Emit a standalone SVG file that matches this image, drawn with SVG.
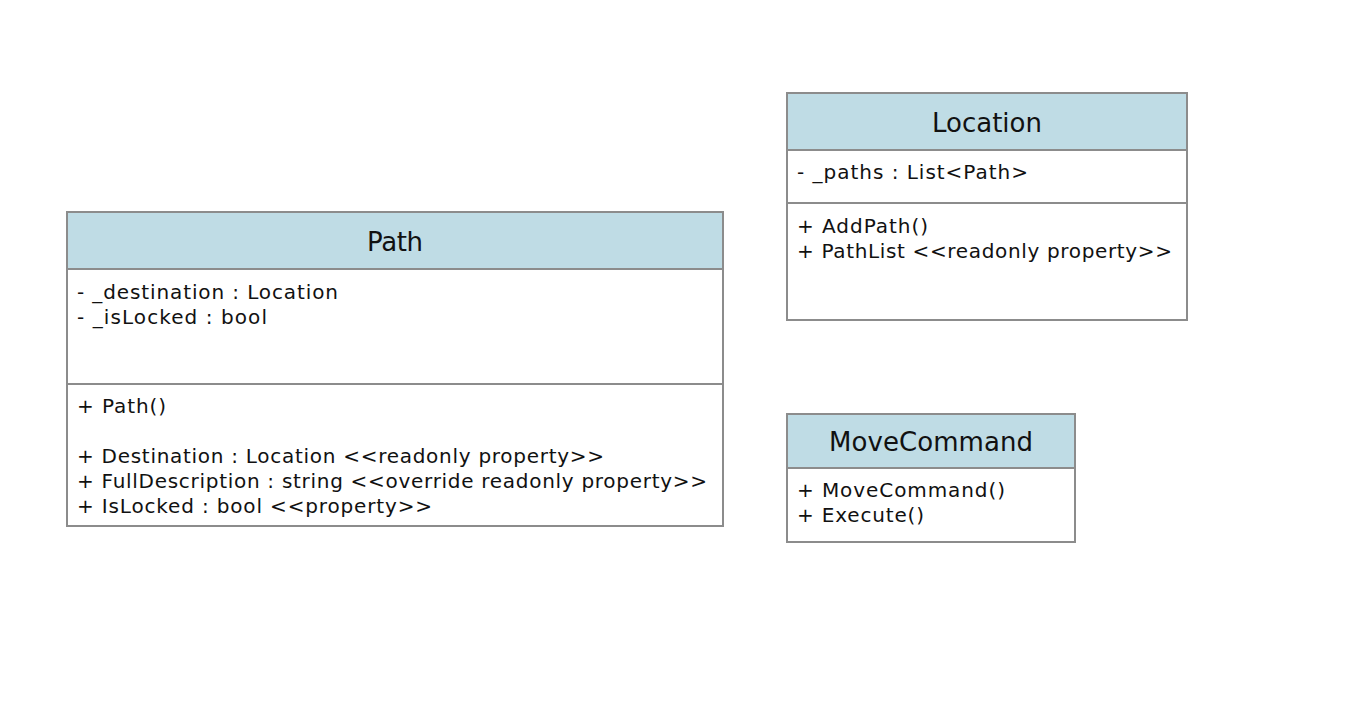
<svg xmlns="http://www.w3.org/2000/svg" width="1358" height="706" viewBox="0 0 1358 706">
<style>
.box{fill:#ffffff;stroke:#8c8c8c;stroke-width:2}
.hdr{fill:#bfdce5;stroke:#8c8c8c;stroke-width:2}
.sep{stroke:#8c8c8c;stroke-width:2}
.t{font-family:"DejaVu Sans",Verdana,sans-serif;font-size:20px;fill:#111}
.h{font-family:"DejaVu Sans",Verdana,sans-serif;font-size:26px;fill:#111;text-anchor:middle;dominant-baseline:central}
</style>
<rect width="1358" height="706" fill="#ffffff"/>
<g id="Path">
<rect class="box" x="67" y="212" width="656" height="314"/>
<rect class="hdr" x="67" y="212" width="656" height="57"/>
<text class="h" x="395" y="242" textLength="56" lengthAdjust="spacing">Path</text>
<line class="sep" x1="67" y1="384" x2="723" y2="384"/>
<text class="t" x="77" y="299" textLength="261" lengthAdjust="spacing">- _destination : Location</text>
<text class="t" x="77" y="324" textLength="190" lengthAdjust="spacing">- _isLocked : bool</text>
<text class="t" x="77" y="413" textLength="89" lengthAdjust="spacing">+ Path()</text>
<text class="t" x="77" y="463" textLength="527" lengthAdjust="spacing">+ Destination : Location &lt;&lt;readonly property&gt;&gt;</text>
<text class="t" x="77" y="488" textLength="630" lengthAdjust="spacing">+ FullDescription : string &lt;&lt;override readonly property&gt;&gt;</text>
<text class="t" x="77" y="513" textLength="355" lengthAdjust="spacing">+ IsLocked : bool &lt;&lt;property&gt;&gt;</text>
</g>
<g id="Location">
<rect class="box" x="787" y="93" width="400" height="227"/>
<rect class="hdr" x="787" y="93" width="400" height="57"/>
<text class="h" x="987" y="123" textLength="110" lengthAdjust="spacing">Location</text>
<line class="sep" x1="787" y1="203" x2="1187" y2="203"/>
<text class="t" x="797" y="179" textLength="231" lengthAdjust="spacing">- _paths : List&lt;Path&gt;</text>
<text class="t" x="797" y="233" textLength="131" lengthAdjust="spacing">+ AddPath()</text>
<text class="t" x="797" y="258" textLength="375" lengthAdjust="spacing">+ PathList &lt;&lt;readonly property&gt;&gt;</text>
</g>
<g id="MoveCommand">
<rect class="box" x="787" y="414" width="288" height="128"/>
<rect class="hdr" x="787" y="414" width="288" height="54"/>
<text class="h" x="931" y="442" textLength="204" lengthAdjust="spacing">MoveCommand</text>
<text class="t" x="797" y="497" textLength="208" lengthAdjust="spacing">+ MoveCommand()</text>
<text class="t" x="797" y="522" textLength="127" lengthAdjust="spacing">+ Execute()</text>
</g>
<g id="connectors"/>
</svg>
